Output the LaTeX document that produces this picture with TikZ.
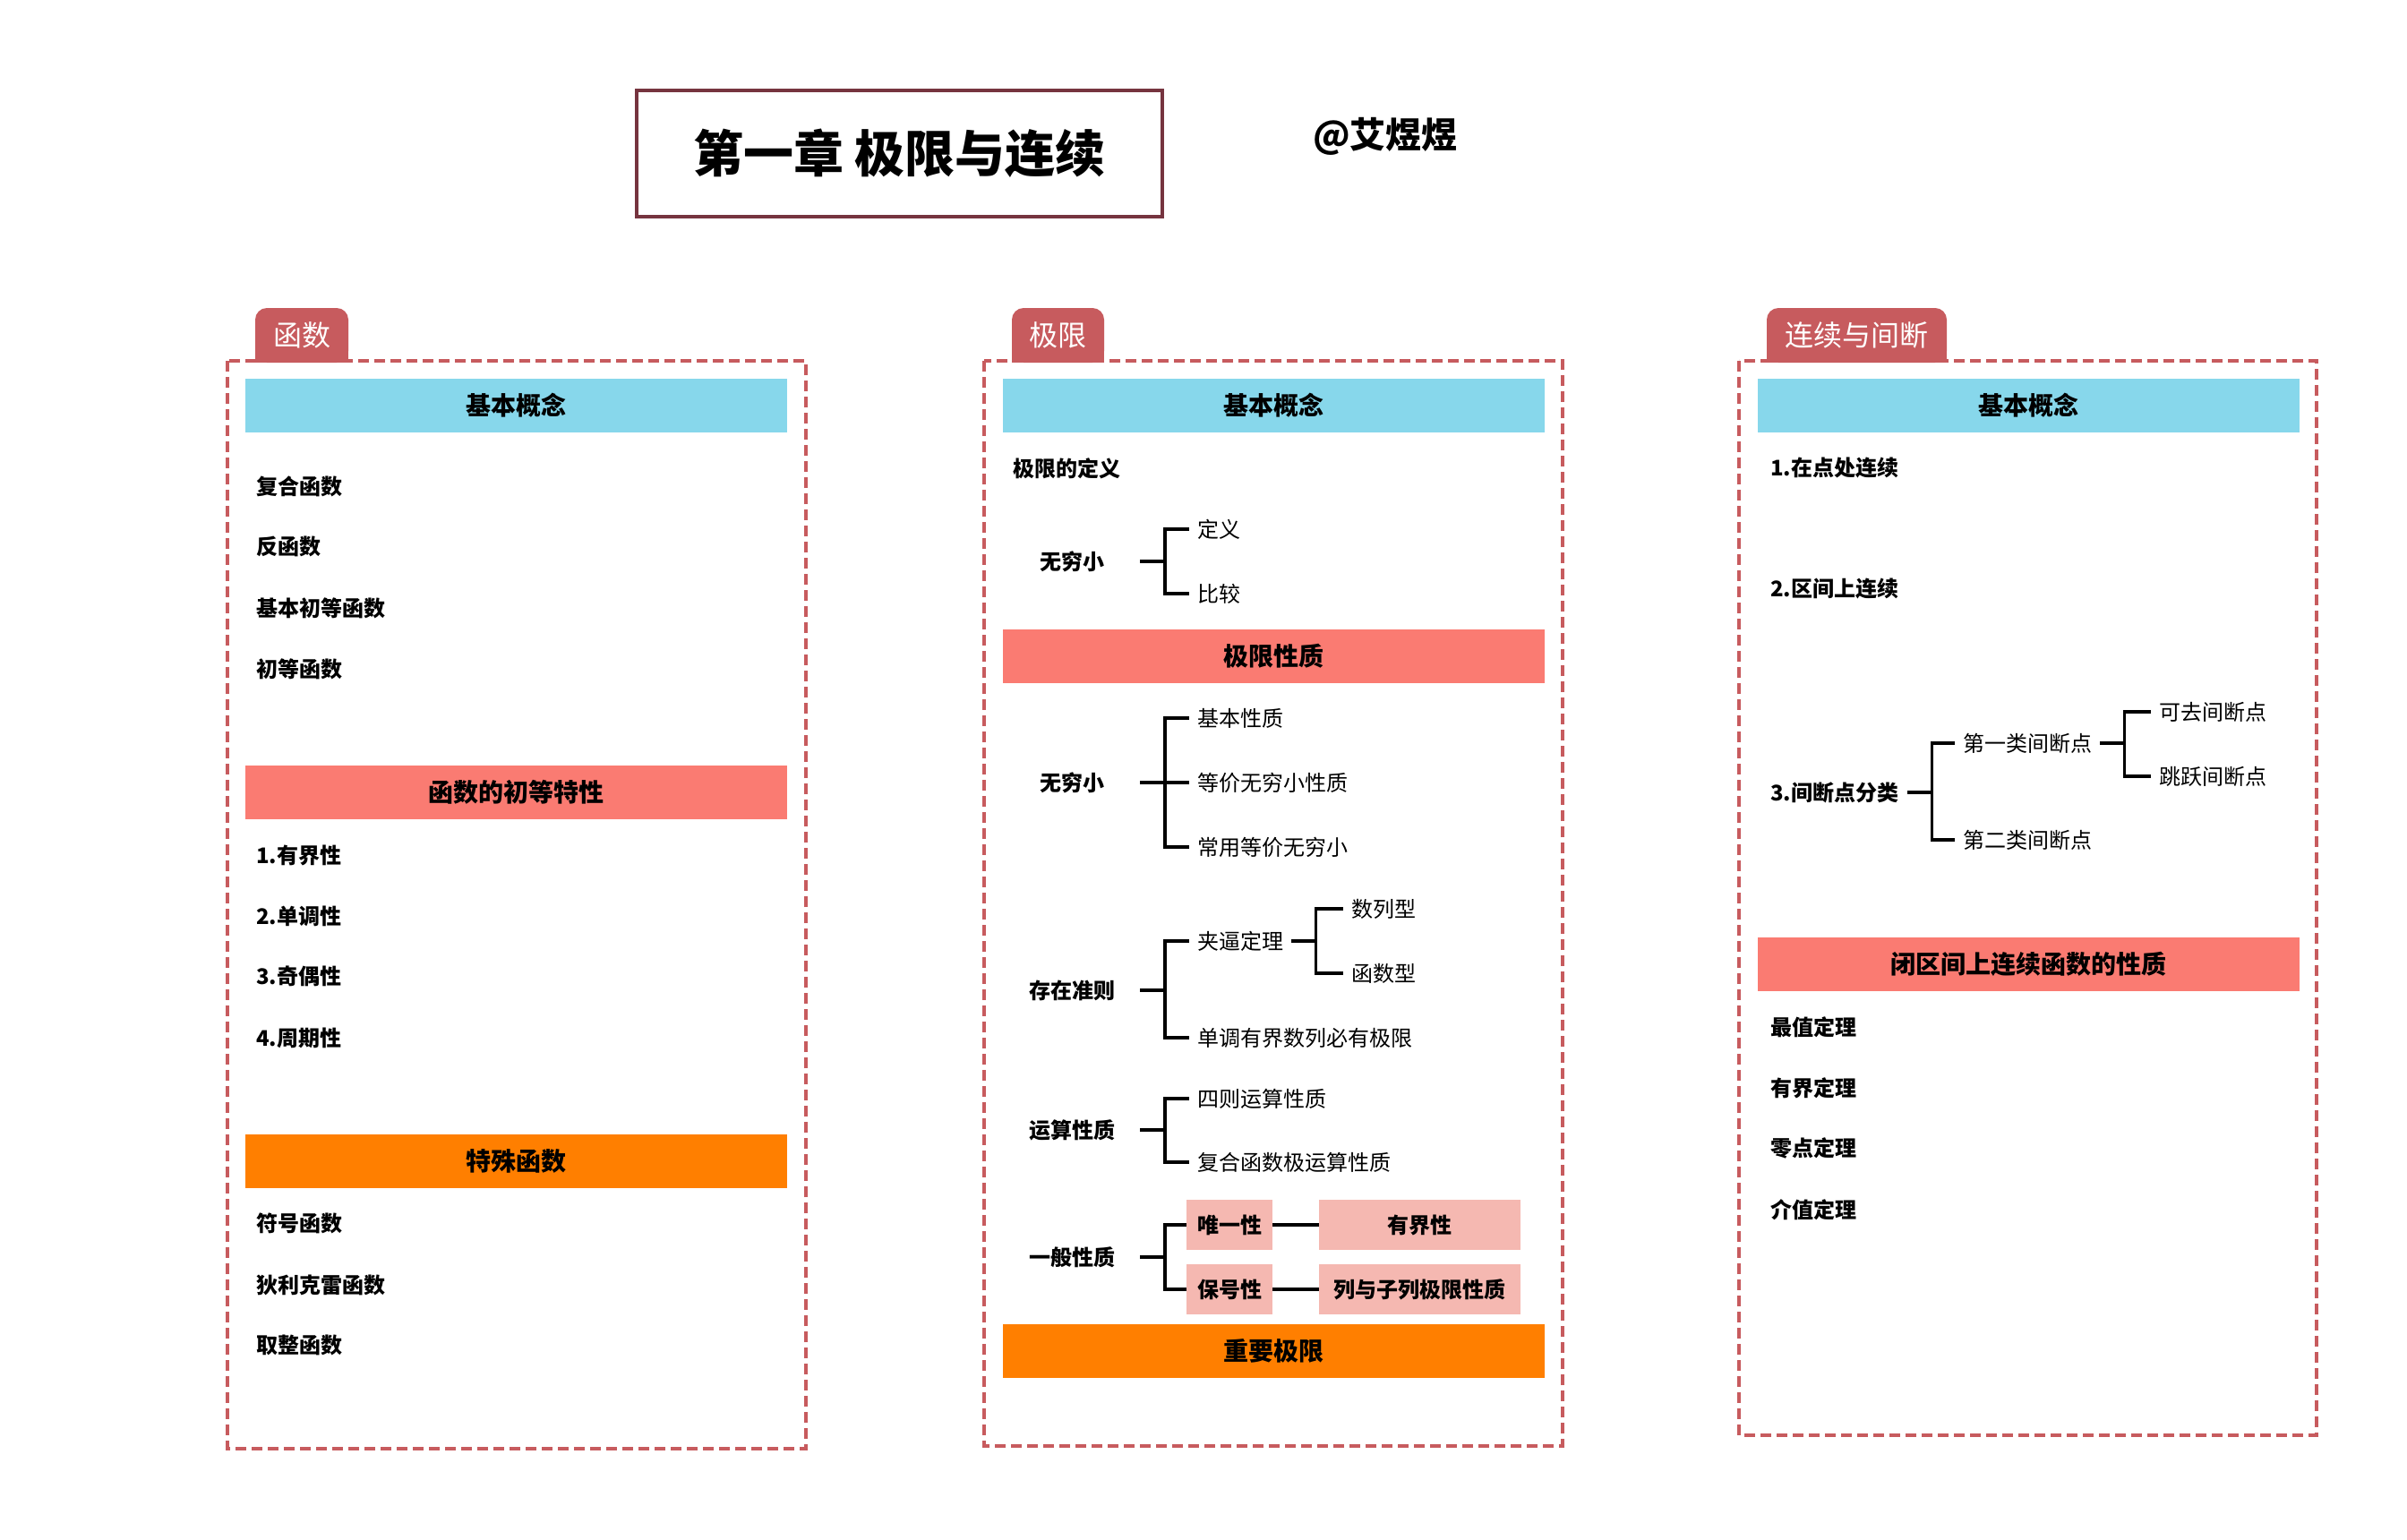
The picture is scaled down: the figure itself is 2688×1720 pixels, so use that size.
\documentclass[tikz,border=0pt]{standalone}
\usepackage{fontspec}
\setmainfont{Noto Sans CJK SC}
\definecolor{tabred}{HTML}{C75B5E}
\definecolor{hblue}{HTML}{87D7EB}
\definecolor{hsalmon}{HTML}{FA7B72}
\definecolor{horange}{HTML}{FF7F00}
\definecolor{pinkbox}{HTML}{F5B8B1}
\definecolor{titleborder}{HTML}{76343F}
\newcommand\fTitle{\fontsize{56pt}{60pt}\selectfont\bfseries}
\newcommand\fSign{\fontsize{40pt}{44pt}\selectfont\bfseries}
\newcommand\fTab{\fontsize{32pt}{36pt}\selectfont}
\newcommand\fHead{\fontsize{28pt}{32pt}\selectfont\bfseries}
\newcommand\fItem{\fontsize{24pt}{28pt}\selectfont\bfseries}
\newcommand\fChild{\fontsize{24pt}{28pt}\selectfont}
\begin{document}
\begin{tikzpicture}[x=1pt,y=-1pt,
  colbox/.style={draw=tabred,line width=4pt,dash pattern=on 12pt off 6pt},
  tabnode/.style={fill=tabred,rounded corners=13pt,minimum width=#1,minimum height=61pt,inner sep=0pt,text=white,font=\fTab},
  bar/.style={fill=#1,minimum width=605pt,minimum height=60pt,inner sep=0pt,font=\fHead},
  itm/.style={anchor=west,inner sep=0pt,font=\fItem},
  par/.style={minimum width=152pt,inner sep=0pt,font=\fItem},
  rpar/.style={anchor=west,inner xsep=10pt,inner ysep=0pt,font=\fItem},
  chl/.style={anchor=west,inner xsep=9pt,inner ysep=0pt,font=\fChild},
  pbox/.style={fill=pinkbox,minimum width=#1,minimum height=56pt,inner sep=0pt,font=\fItem},
  brk/.style={draw=black,line width=3.5pt,line join=miter}
]
\useasboundingbox (0,0) rectangle (2688,1720);

% title
\node[draw=titleborder,line width=4pt,minimum width=587pt,minimum height=141pt,inner sep=0pt,font=\fTitle] (title) at (1004.5,171.5) {第一章 极限与连续};
\node[font=\fSign,inner sep=0pt] (sig) at (1547,152) {@艾煜煜};

% column frames
\draw[colbox] (254,403) rectangle (900,1618);
\draw[colbox] (1099,403) rectangle (1745,1615);
\draw[colbox] (1942,403) rectangle (2587,1603);

% tabs
\node[tabnode=104pt] (tabA) at (337,374.5) {};
\fill[tabred] (tabA.west) rectangle (tabA.south east);
\node[text=white,font=\fTab,inner sep=0pt] (tabAt) at (tabA) {函数};
\node[tabnode=103pt] (tabB) at (1181.5,374.5) {};
\fill[tabred] (tabB.west) rectangle (tabB.south east);
\node[text=white,font=\fTab,inner sep=0pt] (tabBt) at (tabB) {极限};
\node[tabnode=201pt] (tabC) at (2073.5,374.5) {};
\fill[tabred] (tabC.west) rectangle (tabC.south east);
\node[text=white,font=\fTab,inner sep=0pt] (tabCt) at (tabC) {连续与间断};

% ===== left column =====
\node[bar=hblue] (La) at (576.5,453) {基本概念};
\node[itm] (L1) at (286,543) {复合函数};
\node[itm] (L2) at (286,610) {反函数};
\node[itm] (L3) at (286,679) {基本初等函数};
\node[itm] (L4) at (286,747) {初等函数};
\node[bar=hsalmon] (Lb) at (576.5,885) {函数的初等特性};
\node[itm] (L5) at (286,955) {1.有界性};
\node[itm] (L6) at (286,1023) {2.单调性};
\node[itm] (L7) at (286,1090) {3.奇偶性};
\node[itm] (L8) at (286,1159) {4.周期性};
\node[bar=horange] (Lc) at (576.5,1297) {特殊函数};
\node[itm] (L9) at (286,1366) {符号函数};
\node[itm] (L10) at (286,1435) {狄利克雷函数};
\node[itm] (L11) at (286,1502) {取整函数};

% ===== middle column =====
\node[bar=hblue] (Ma) at (1422,453) {基本概念};
\node[itm] (M0) at (1131,523) {极限的定义};
\node[par] (Mw1) at (1197,627) {无穷小};
\node[chl] (Mw1a) at (1328,591) {定义};
\node[chl] (Mw1b) at (1328,663) {比较};
\draw[brk] (Mw1.east) -- ++(28,0) |- (Mw1a.west);
\draw[brk] (Mw1.east) -- ++(28,0) |- (Mw1b.west);

\node[bar=hsalmon] (Mb) at (1422,733) {极限性质};
\node[par] (Mw2) at (1197,874) {无穷小};
\node[chl] (Mw2a) at (1328,802) {基本性质};
\node[chl] (Mw2b) at (1328,874) {等价无穷小性质};
\node[chl] (Mw2c) at (1328,946) {常用等价无穷小};
\draw[brk] (Mw2.east) -- ++(28,0) |- (Mw2a.west);
\draw[brk] (Mw2.east) -- (Mw2b.west);
\draw[brk] (Mw2.east) -- ++(28,0) |- (Mw2c.west);

\node[par] (Mz) at (1197,1106) {存在准则};
\node[chl] (Mza) at (1328,1051) {夹逼定理};
\node[chl] (Mzb) at (1328,1159) {单调有界数列必有极限};
\draw[brk] (Mz.east) -- ++(28,0) |- (Mza.west);
\draw[brk] (Mz.east) -- ++(28,0) |- (Mzb.west);
\node[chl] (Mzc) at (1500,1015) {数列型};
\node[chl] (Mzd) at (1500,1087) {函数型};
\draw[brk] (Mza.east) -- ++(27,0) |- (Mzc.west);
\draw[brk] (Mza.east) -- ++(27,0) |- (Mzd.west);

\node[par] (My) at (1197,1262) {运算性质};
\node[chl] (Mya) at (1328,1227) {四则运算性质};
\node[chl] (Myb) at (1328,1298) {复合函数极运算性质};
\draw[brk] (My.east) -- ++(28,0) |- (Mya.west);
\draw[brk] (My.east) -- ++(28,0) |- (Myb.west);

\node[par] (Mg) at (1197,1404) {一般性质};
\node[pbox=96pt] (Mg1) at (1373,1368) {唯一性};
\node[pbox=96pt] (Mg2) at (1373,1440) {保号性};
\node[pbox=225pt] (Mg3) at (1585.5,1368) {有界性};
\node[pbox=225pt] (Mg4) at (1585.5,1440) {列与子列极限性质};
\draw[brk] (Mg.east) -- ++(28,0) |- (Mg1.west);
\draw[brk] (Mg.east) -- ++(28,0) |- (Mg2.west);
\draw[brk] (Mg1.east) -- (Mg3.west);
\draw[brk] (Mg2.east) -- (Mg4.west);

\node[bar=horange] (Mc) at (1422,1509) {重要极限};

% ===== right column =====
\node[bar=hblue] (Ra) at (2265.5,453) {基本概念};
\node[itm] (R1) at (1977,523) {1.在点处连续};
\node[itm] (R2) at (1977,658) {2.区间上连续};
\node[rpar] (R3) at (1967,885) {3.间断点分类};
\node[chl] (R3a) at (2183,830) {第一类间断点};
\node[chl] (R3b) at (2183,938) {第二类间断点};
\draw[brk] (R3.east) -- ++(27,0) |- (R3a.west);
\draw[brk] (R3.east) -- ++(27,0) |- (R3b.west);
\node[chl] (R3c) at (2402,795) {可去间断点};
\node[chl] (R3d) at (2402,867) {跳跃间断点};
\draw[brk] (R3a.east) -- ++(27,0) |- (R3c.west);
\draw[brk] (R3a.east) -- ++(27,0) |- (R3d.west);

\node[bar=hsalmon] (Rb) at (2265.5,1077) {闭区间上连续函数的性质};
\node[itm] (R4) at (1977,1147) {最值定理};
\node[itm] (R5) at (1977,1215) {有界定理};
\node[itm] (R6) at (1977,1282) {零点定理};
\node[itm] (R7) at (1977,1351) {介值定理};
\end{tikzpicture}
\end{document}
